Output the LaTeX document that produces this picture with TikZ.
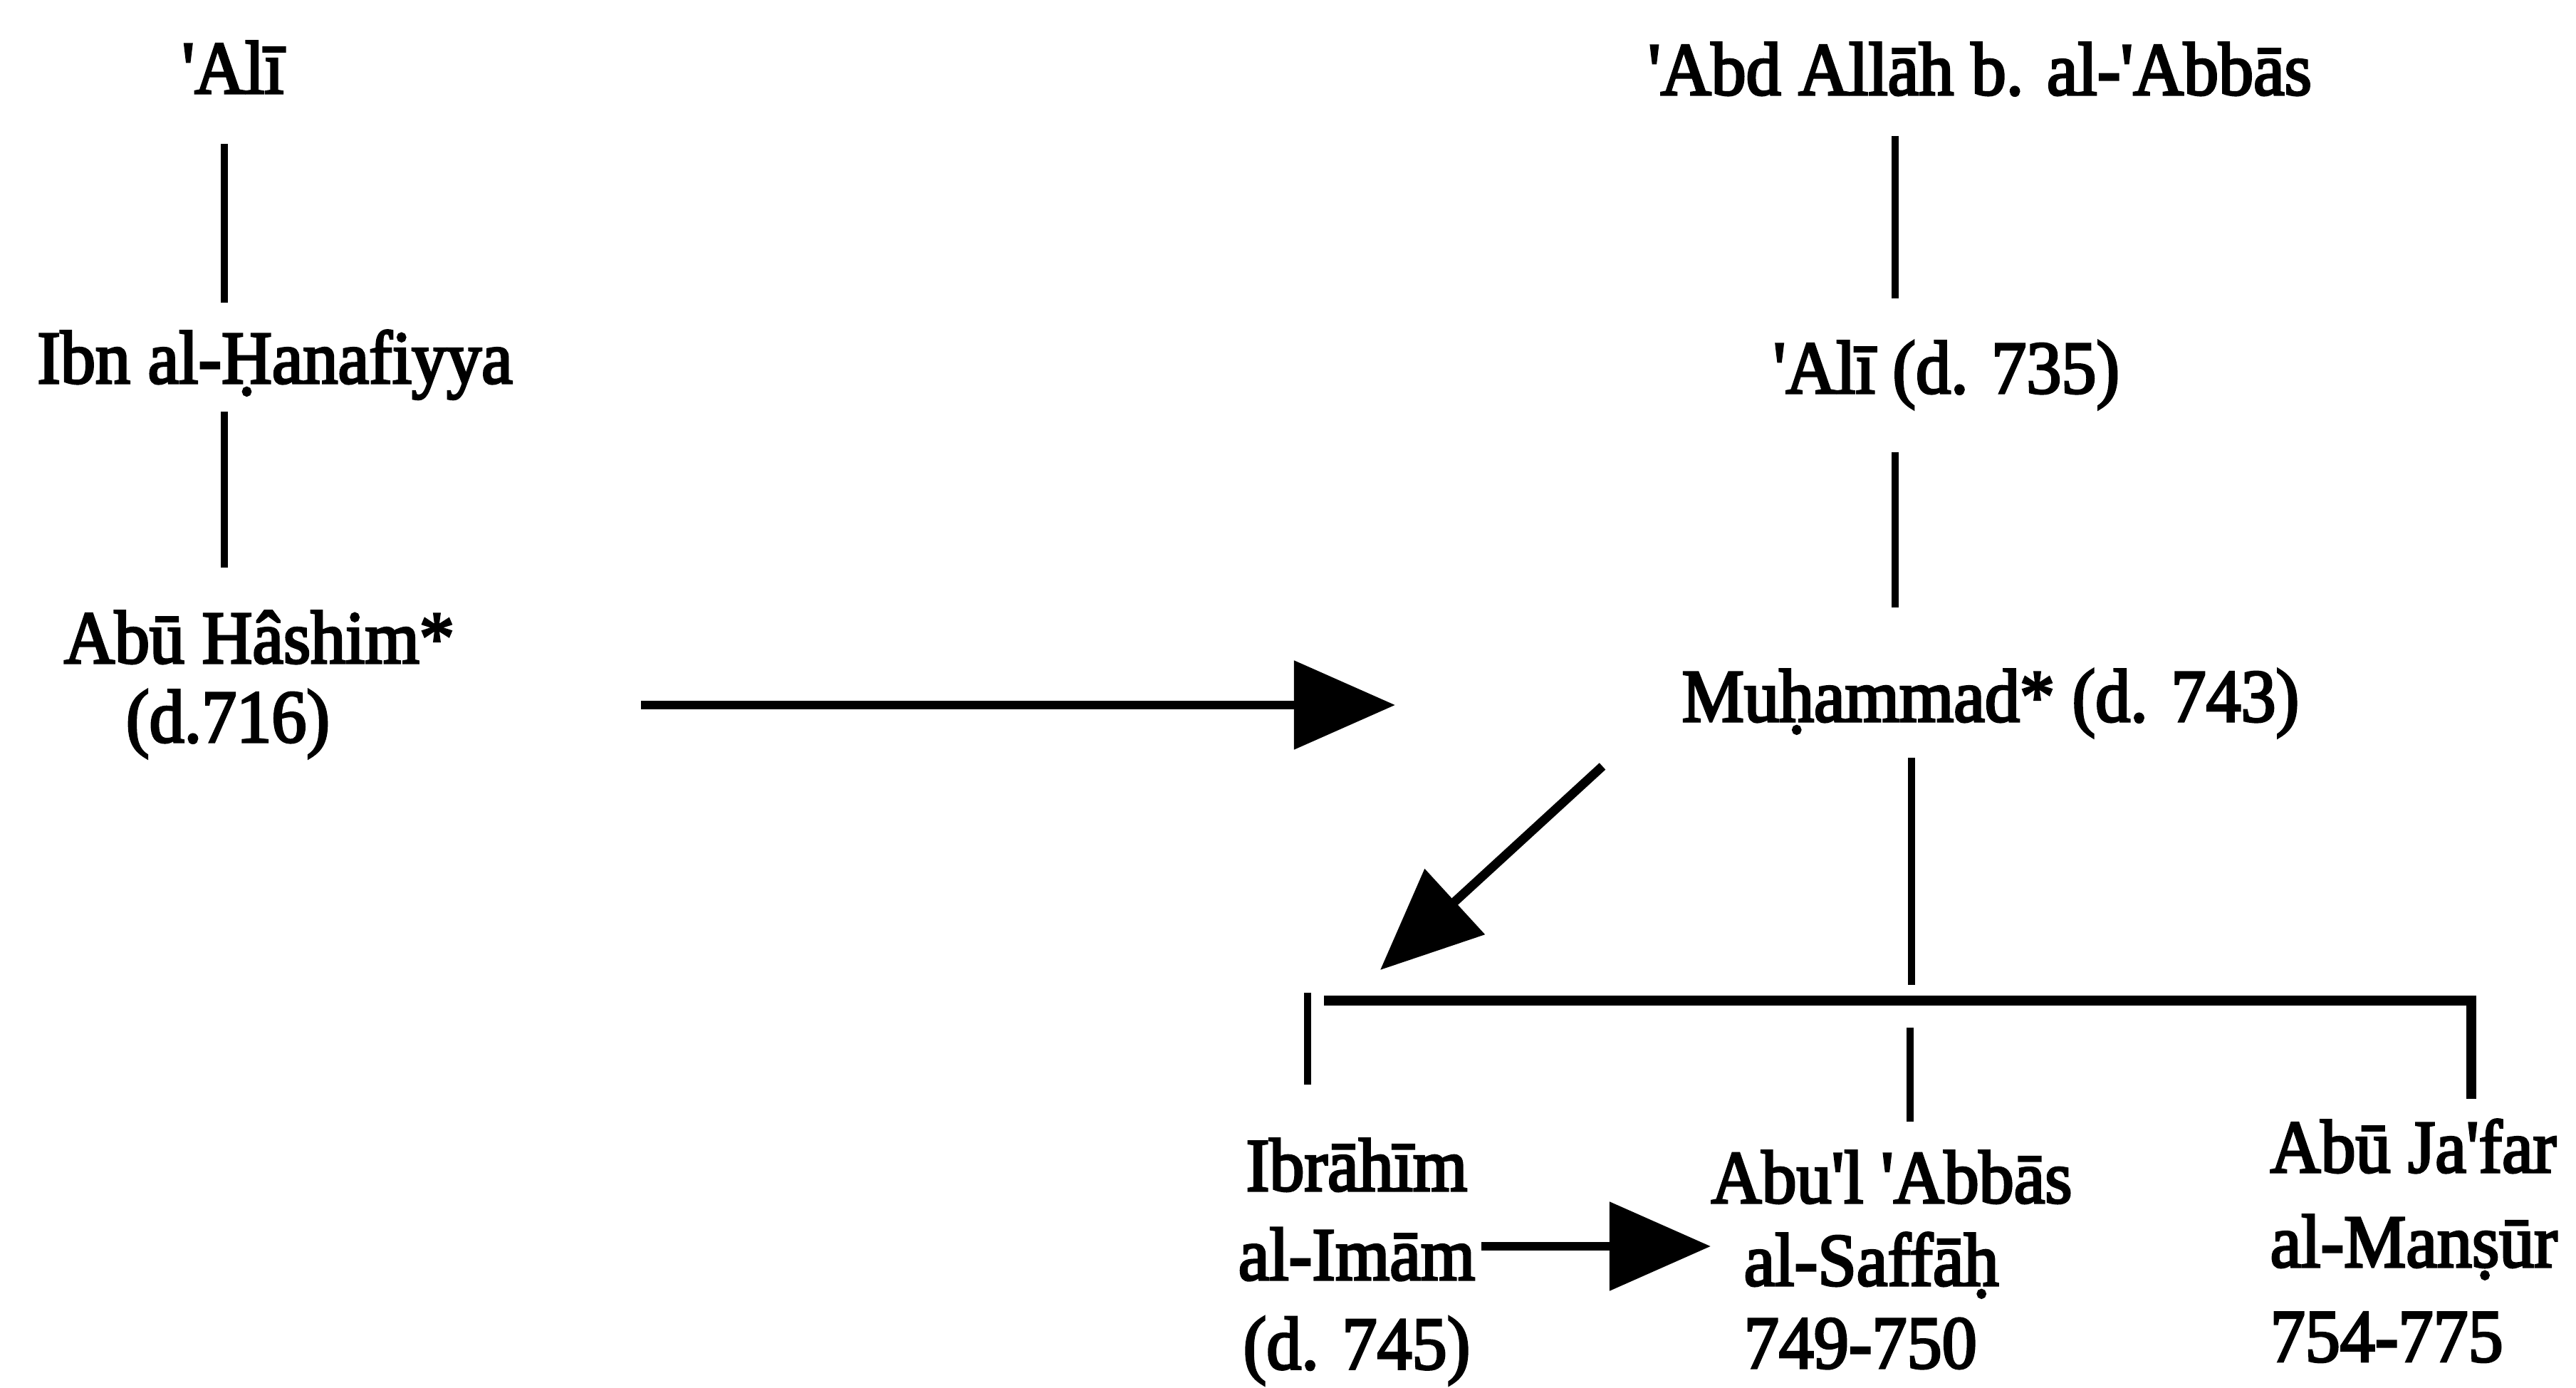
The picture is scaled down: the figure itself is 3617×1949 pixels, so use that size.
\documentclass[tikz,border=0pt]{standalone}
\usepackage{fontspec}
\setmainfont{Liberation Serif}[Ligatures=TeXOff,FakeBold=3,FakeStretch=0.93]
\usetikzlibrary{arrows.meta,calc}
\begin{document}
\begin{tikzpicture}[x=0.01cm,y=-0.01cm,
  every node/.style={inner sep=0pt,font=\fontsize{30}{37.8}\selectfont},
  lbl/.style={anchor=base},
  grp/.style={anchor=north,align=center},
  grpl/.style={anchor=north west,align=left},
  rel/.style={line width=2.6pt},
  bar/.style={line width=4pt},
  arr/.style={line width=3.6pt,-{Triangle[length=1.42cm,width=1.22cm]}}]
\useasboundingbox (0,0) rectangle (3617,1949);
\fill[white] (0,0) rectangle (3617,1949);
% left column
\node[lbl] (ali) at (327,131) {'Alī};
\node[lbl] (ibn) at (386,538) {Ibn al-Ḥanafiyya};
\node[lbl] (hashim) at (364,931) {Abū Hâshim*};
\node[lbl] (hashimd) at (320,1042) {(d.716)};
% right column
\node[lbl] (abd) at (2780,133) {'Abd Allāh b. al-'Abbās};
\node[lbl] (alib) at (2733,552) {'Alī (d. 735)};
\node[lbl] (muh) at (2795,1013) {Muḥammad* (d. 743)};
\node[grp,font=\fontsize{30}{35.6}\selectfont] (ibr) at (1905,1598) {Ibrāhīm\\al-Imām\\(d. 745)};
\node[grpl,font=\fontsize{30}{33}\selectfont] (saf) at (2402,1615)
  {Abu'l 'Abbās\\\hspace*{0.46cm}al-Saffāḥ\\\hspace*{0.46cm}749-750};
\node[grpl] (man) at (3187,1571) {Abū Ja'far\\al-Manṣūr\\754-775};
% lines of descent
\draw[rel] ($(ali.base)+(-12,71)$) -- ($(ali.base |- ibn.base)+(-12,-113)$);
\draw[rel] ($(ali.base |- ibn.base)+(-12,40)$) -- ($(ali.base |- hashim.base)+(-12,-134)$);
\draw[rel] ($(abd.base)+(-119,58)$) -- ($(alib.base)+(-72,-133)$);
\draw[rel] ($(alib.base)+(-72,83)$) -- ($(muh.base)+(-134,-160)$);
\draw[rel] ($(muh.base)+(-111,51)$) -- ($(saf.north west)+(282,-232)$);
% bracket over the sons
\draw[rel] ($(ibr.north)+(-69,-204)$) -- ($(ibr.north)+(-69,-75)$);
\draw[bar] ($(ibr.north)+(-46,-193)$) -- ($(man.north west)+(283,-166)$) -- ($(man.north west)+(283,-28)$);
\draw[rel] ($(saf.north west)+(280,-172)$) -- ($(saf.north west)+(280,-40)$);
% arrows
\draw[arr] ($(hashim.base)+(536,59)$) -- ($(muh.base)+(-836,-23)$);
\draw[arr] ($(muh.base)+(-545,63)$) -- ($(ibr.north)+(33,-236)$);
\draw[arr] ($(ibr.north)+(175,152)$) -- ($(saf.north west)+(0,135)$);
\end{tikzpicture}
\end{document}
